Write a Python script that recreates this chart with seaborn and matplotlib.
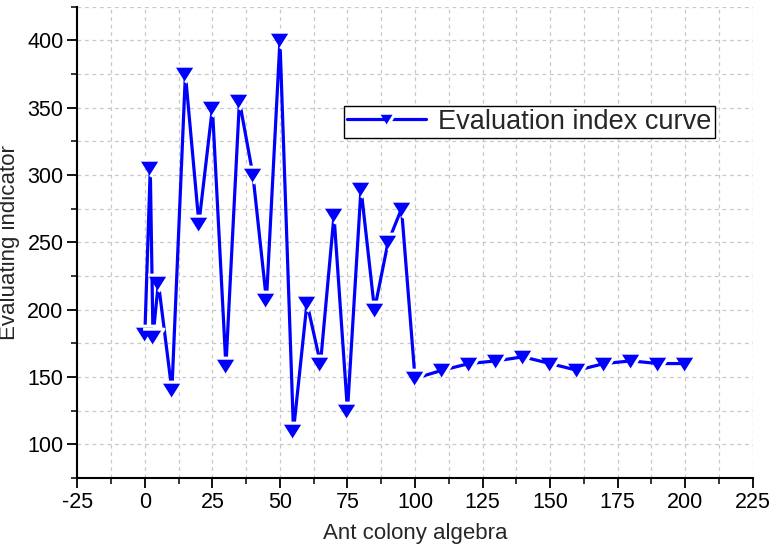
import matplotlib
matplotlib.use("Agg")
import numpy as np
import pandas as pd
import matplotlib.pyplot as plt
from matplotlib.ticker import MultipleLocator
import seaborn as sns

# values
generation = [0, 2, 3, 5, 10, 15, 20, 25, 30, 35, 40, 45, 50, 55, 60, 65, 70, 75,
              80, 85, 90, 95, 100, 110, 120, 130, 140, 150, 160, 170, 180, 190, 200]
indicator = [182, 305, 180, 220, 140, 375, 264, 350, 158, 355, 300, 207, 400, 110,
             205, 160, 270, 125, 290, 200, 250, 275, 149, 155, 160, 162, 165, 160,
             155, 160, 162, 160, 160]
series_name = "Evaluation index curve"
x_label = "Ant colony algebra"
y_label = "Evaluating indicator"

df = pd.DataFrame({"x": generation, "y": indicator})

sns.set_style("ticks")
plt.rcParams["font.family"] = ["Liberation Sans", "DejaVu Sans"]
plt.rcParams["axes.unicode_minus"] = False

fig = plt.figure(figsize=(7.71, 5.48), dpi=100)
ax = fig.add_axes([0.1003, 0.1277, 0.876, 0.860])

# flattened down-triangle like the Origin symbol
tri = [(-1, 0.8), (1, 0.8), (0, -0.8)]
sns.lineplot(data=df, x="x", y="y", ax=ax, sort=False, estimator=None,
             color="#0000ff", linewidth=2.3, marker=tri, markersize=15,
             markerfacecolor="#0000ff", markeredgecolor="white",
             markeredgewidth=2.2, label=series_name, zorder=3)

ax.set_xlim(-25, 225)
ax.set_ylim(75, 425)
ax.xaxis.set_major_locator(MultipleLocator(25))
ax.xaxis.set_minor_locator(MultipleLocator(12.5))
ax.yaxis.set_major_locator(MultipleLocator(50))
ax.yaxis.set_minor_locator(MultipleLocator(25))

ax.grid(which="both", color="#c8c8c8", linestyle=(0, (3, 3)), linewidth=0.9)
ax.set_axisbelow(True)

for side in ["top", "right"]:
    ax.spines[side].set_visible(False)
for side in ["left", "bottom"]:
    ax.spines[side].set_linewidth(1.5)
    ax.spines[side].set_color("black")

ax.tick_params(which="major", direction="out", length=7, width=1.3,
               labelsize=15.5, colors="black", pad=3)
ax.tick_params(which="minor", direction="out", length=4.5, width=1.3)

ax.set_xlabel(x_label, fontsize=16, labelpad=7)
ax.set_ylabel(y_label, fontsize=16, labelpad=5)

leg = ax.legend(loc="upper left", bbox_to_anchor=(0.395, 0.79), borderaxespad=0,
                fontsize=19.5, frameon=True, fancybox=False, framealpha=1,
                edgecolor="black", handlelength=2.9, markerscale=0.75,
                borderpad=0.12, handletextpad=0.45)
leg.get_frame().set_linewidth(1.0)

fig.savefig("out.png", dpi=100)
plt.close(fig)
